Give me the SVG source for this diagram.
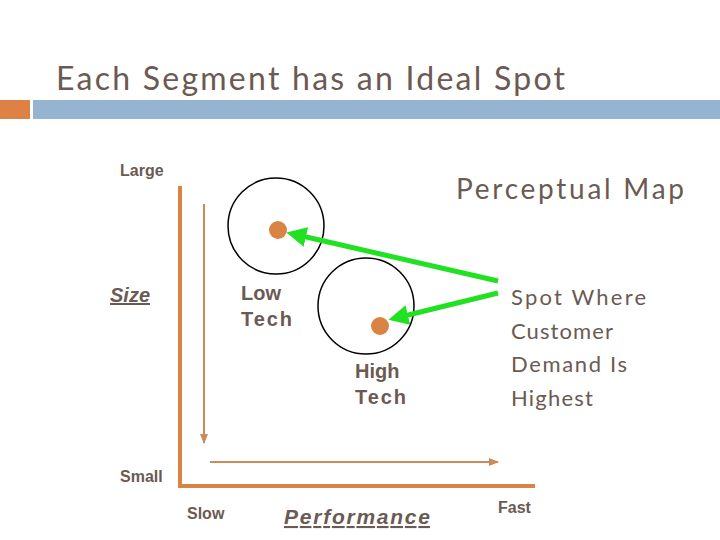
<svg xmlns="http://www.w3.org/2000/svg" width="720" height="540" viewBox="0 0 720 540">
<defs>
<style>
.a{font-family:"Liberation Sans",Arial,sans-serif;font-weight:bold;fill:#6b5a52}
.g{font-family:"Lato","Noto Sans",sans-serif;fill:#6b5a52}
.circ{fill:none;stroke:#000;stroke-width:1.5}
.dot{fill:#d98344}
.grn{stroke:#22e022;stroke-width:5;fill:none}
</style>
<marker id="ga" viewBox="0 0 10 10" refX="2" refY="5" markerWidth="4" markerHeight="4" orient="auto-start-reverse"><path d="M0,0L10,5L0,10z" fill="#22e022"/></marker>
<marker id="oa" viewBox="0 0 10 10" refX="9" refY="5" markerWidth="5" markerHeight="5" orient="auto"><path d="M0,1L10,5L0,9z" fill="#c98a5e"/></marker>
</defs>
<rect width="720" height="540" fill="#fff"/>
<text class="g" x="56" y="90" font-size="32" textLength="509" lengthAdjust="spacing">Each Segment has an Ideal Spot</text>
<rect x="0" y="100" width="30" height="19" fill="#dd8145"/>
<rect x="33" y="100" width="687" height="19" fill="#95b4d1"/>
<g id="axes">
<path d="M180,186V486H535" fill="none" stroke="#d98344" stroke-width="4"/>
<text class="a" x="120" y="176" font-size="16">Large</text>
<text class="a" x="120" y="482" font-size="16">Small</text>
<text class="a" x="187" y="519" font-size="16">Slow</text>
<text class="a" x="498" y="513" font-size="16">Fast</text>
<text class="a" x="110" y="302" font-size="20" font-style="italic" text-decoration="underline">Size</text>
<text class="a" x="284" y="524" font-size="21" font-style="italic" text-decoration="underline" textLength="146">Performance</text>
</g>
<text class="g" x="456" y="199" font-size="28" textLength="228" lengthAdjust="spacing">Perceptual Map</text>
<g id="lowtech">
<circle class="circ" cx="276" cy="226" r="48"/>
<circle class="dot" cx="278" cy="230" r="9"/>
<text class="a" x="241" y="300" font-size="20">Low</text>
<text class="a" x="241" y="326" font-size="20" textLength="51">Tech</text>
</g>
<g id="hightech">
<circle class="circ" cx="366" cy="306" r="48"/>
<circle class="dot" cx="380" cy="326" r="9"/>
<text class="a" x="355" y="378" font-size="20">High</text>
<text class="a" x="355" y="404" font-size="20" textLength="51">Tech</text>
</g>
<g id="spot">
<text class="g" font-size="22" lengthAdjust="spacing"><tspan x="511" y="305" textLength="135">Spot Where</tspan><tspan x="511" y="339" textLength="102">Customer</tspan><tspan x="511" y="372" textLength="116">Demand Is</tspan><tspan x="511" y="406" textLength="82">Highest</tspan></text>
</g>
<g id="connectors">
<line x1="204" y1="204" x2="204" y2="443" stroke="#c98a5e" stroke-width="2" marker-end="url(#oa)"/>
<line x1="210" y1="462" x2="498" y2="462" stroke="#c98a5e" stroke-width="2" marker-end="url(#oa)"/>
<line class="grn" x1="498" y1="281" x2="302" y2="236" marker-end="url(#ga)"/>
<line class="grn" x1="498" y1="293" x2="404" y2="316" marker-end="url(#ga)"/>
</g>
</svg>
